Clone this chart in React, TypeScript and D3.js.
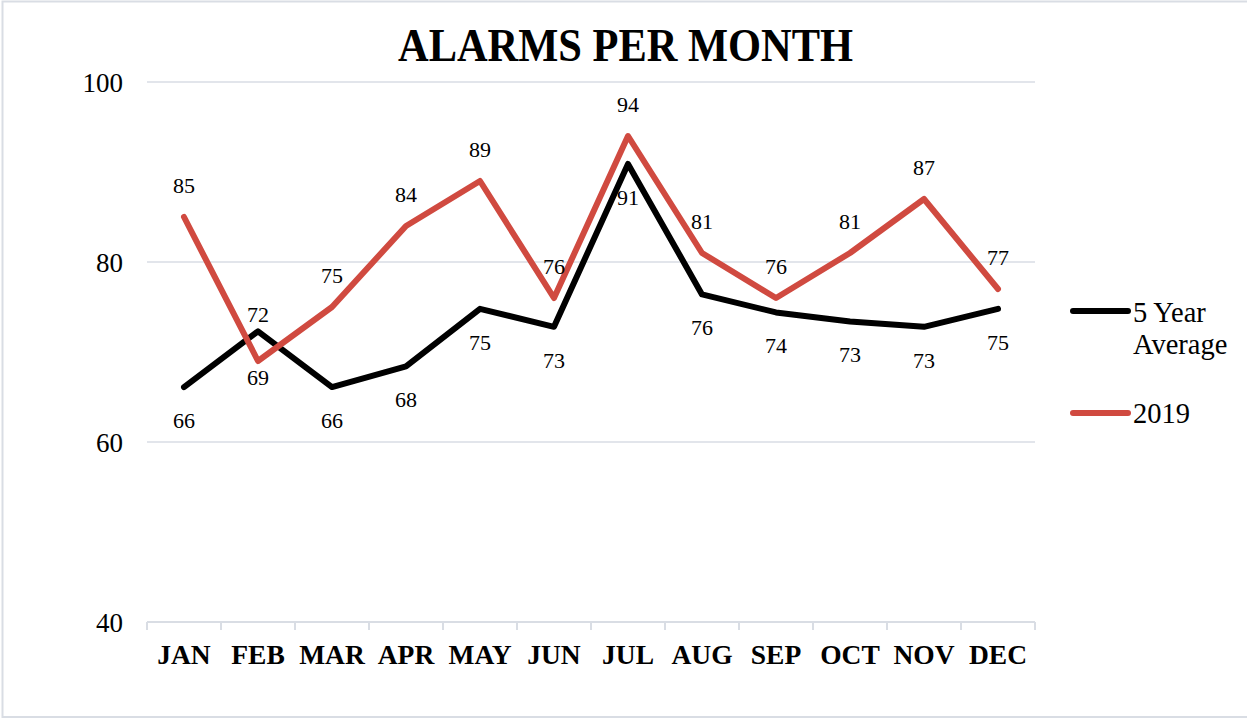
import React, { useRef, useEffect } from 'react';
import * as d3 from 'd3';

const months = ['JAN', 'FEB', 'MAR', 'APR', 'MAY', 'JUN', 'JUL', 'AUG', 'SEP', 'OCT', 'NOV', 'DEC'];
const fiveYearAvg = [66.1, 72.3, 66.1, 68.4, 74.8, 72.8, 90.9, 76.4, 74.4, 73.4, 72.8, 74.8];
const year2019 = [85, 69, 75, 84, 89, 76, 94, 81, 76, 81, 87, 77];
const yTicks = [40, 60, 80, 100];

const FONT = "'Liberation Serif', 'Times New Roman', serif";
const GRID = '#d9dde4';
const RED = '#d04a40';

const App = () => {
  const ref = useRef<SVGSVGElement>(null);

  useEffect(() => {
    const svg = d3.select(ref.current);
    svg.selectAll('*').remove();

    const W = 1247;
    const left = 147;
    const right = 1035;
    const top = 82;
    const bottom = 622;

    // outer frame
    svg
      .append('rect')
      .attr('x', 2.5)
      .attr('y', 1.5)
      .attr('width', W)
      .attr('height', 715.5)
      .attr('fill', '#fff')
      .attr('stroke', GRID)
      .attr('stroke-width', 2);

    svg
      .append('text')
      .attr('x', 625.5)
      .attr('y', 61)
      .attr('text-anchor', 'middle')
      .attr('font-family', FONT)
      .attr('font-weight', 'bold')
      .attr('font-size', 46)
      .attr('textLength', 455)
      .attr('lengthAdjust', 'spacingAndGlyphs')
      .text('ALARMS PER MONTH');

    const x = d3.scaleBand().domain(months).range([left, right]);
    const y = d3.scaleLinear().domain([40, 100]).range([bottom, top]);

    // gridlines
    svg
      .append('g')
      .selectAll('line')
      .data(yTicks.filter((t) => t > 40))
      .join('line')
      .attr('x1', left)
      .attr('x2', right)
      .attr('y1', (d) => y(d))
      .attr('y2', (d) => y(d))
      .attr('stroke', GRID)
      .attr('stroke-width', 1.5);

    // y labels
    svg
      .append('g')
      .selectAll('text')
      .data(yTicks)
      .join('text')
      .attr('x', 123)
      .attr('y', (d) => y(d) + 9.5)
      .attr('text-anchor', 'end')
      .attr('font-family', FONT)
      .attr('font-size', 27)
      .text((d) => d);

    // x axis
    const xAxis = d3.axisBottom(x).tickSize(0).tickPadding(0).tickFormat(() => '');
    const gx = svg.append('g').attr('transform', `translate(0,${bottom})`).call(xAxis);
    gx.select('.domain').attr('stroke', GRID).attr('stroke-width', 2).attr('d', `M${left},0H${right}`);
    gx.selectAll('.tick').remove();

    const bounds = months.map((m) => x(m)!).concat([right]);
    gx.selectAll('line.sep')
      .data(bounds)
      .join('line')
      .attr('class', 'sep')
      .attr('x1', (d) => d)
      .attr('x2', (d) => d)
      .attr('y1', 0)
      .attr('y2', 8)
      .attr('stroke', GRID)
      .attr('stroke-width', 2);

    svg
      .append('g')
      .selectAll('text')
      .data(months)
      .join('text')
      .attr('x', (d) => x(d)! + x.bandwidth() / 2)
      .attr('y', 664)
      .attr('text-anchor', 'middle')
      .attr('font-family', FONT)
      .attr('font-weight', 'bold')
      .attr('font-size', 27.5)
      .text((d) => d);

    const cx = (i: number) => x(months[i])! + x.bandwidth() / 2;
    const line = d3
      .line<number>()
      .x((_, i) => cx(i))
      .y((d) => y(d));

    const series = [
      { name: '5 Year Average', values: fiveYearAvg, color: '#000', below: true },
      { name: '2019', values: year2019, color: RED, below: false },
    ];

    series.forEach((s) => {
      svg
        .append('path')
        .datum(s.values)
        .attr('fill', 'none')
        .attr('stroke', s.color)
        .attr('stroke-width', 6)
        .attr('stroke-linejoin', 'round')
        .attr('stroke-linecap', 'round')
        .attr('d', line);
    });

    // data labels; in FEB the lines cross so labels swap sides
    series.forEach((s) => {
      svg
        .append('g')
        .selectAll('text')
        .data(s.values)
        .join('text')
        .attr('x', (_, i) => cx(i))
        .attr('y', (d, i) => {
          if (months[i] === 'FEB') return y(d) + (s.below ? -9 : 24);
          return y(d) + (s.below ? 41 : -24);
        })
        .attr('text-anchor', 'middle')
        .attr('font-family', FONT)
        .attr('font-size', 22)
        .text((d) => Math.round(d));
    });

    // legend
    const lg = svg.append('g').attr('font-family', FONT).attr('font-size', 28.5);
    lg.append('line')
      .attr('x1', 1073).attr('x2', 1128).attr('y1', 311).attr('y2', 311)
      .attr('stroke', '#000').attr('stroke-width', 6).attr('stroke-linecap', 'round');
    lg.append('text').attr('x', 1133).attr('y', 322).text('5 Year');
    lg.append('text').attr('x', 1133).attr('y', 354).text('Average');
    lg.append('line')
      .attr('x1', 1073).attr('x2', 1128).attr('y1', 413).attr('y2', 413)
      .attr('stroke', RED).attr('stroke-width', 6).attr('stroke-linecap', 'round');
    lg.append('text').attr('x', 1133).attr('y', 423).text('2019');
  }, []);

  return (
    <div style={{ position: 'absolute', left: 0, top: 0 }}>
      <svg ref={ref} width={1247} height={719} style={{ display: 'block' }}></svg>
    </div>
  );
};

export default App;
